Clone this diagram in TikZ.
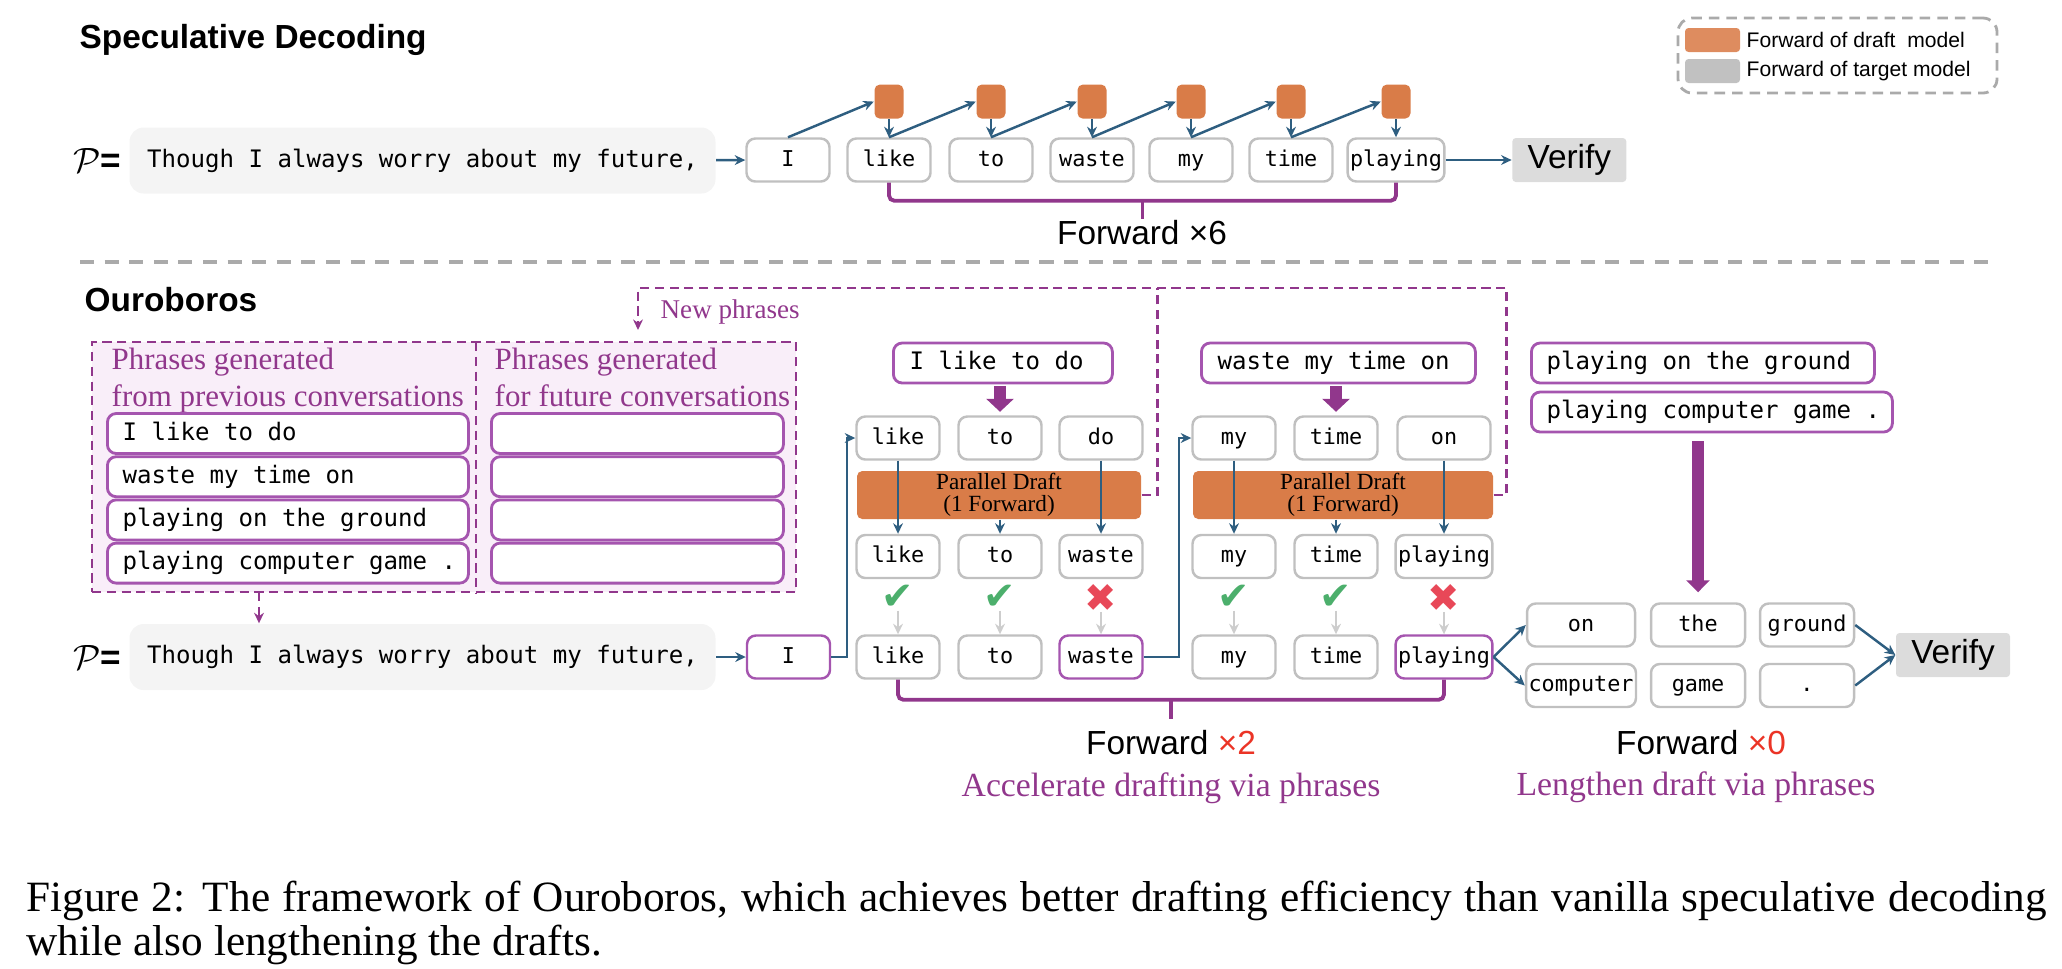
\documentclass[tikz,border=0pt]{standalone}
\usepackage{fontspec}
\setmainfont{Liberation Serif}
\setsansfont{Liberation Sans}
\setmonofont{DejaVu Sans Mono}
\newfontfamily\symfont{DejaVu Sans}
\usetikzlibrary{arrows.meta,calc,positioning}

\definecolor{draftorange}{RGB}{217,124,72}
\definecolor{legorange}{RGB}{222,140,95}
\definecolor{targetgray}{RGB}{193,193,193}
\definecolor{verifygray}{RGB}{220,220,220}
\definecolor{promptgray}{RGB}{244,244,244}
\definecolor{tokgray}{RGB}{192,192,192}
\definecolor{linkblue}{RGB}{46,94,128}
\definecolor{purp}{RGB}{145,55,140}
\definecolor{phrpurple}{RGB}{165,85,175}
\definecolor{poolpink}{RGB}{249,238,249}
\definecolor{okgreen}{RGB}{76,175,108}
\definecolor{badred}{RGB}{232,72,88}
\definecolor{timesred}{RGB}{235,52,38}
\definecolor{sepgray}{RGB}{170,170,170}
\definecolor{lightarrow}{RGB}{205,205,205}

\tikzset{
  tok/.style={draw=tokgray, line width=0.7pt, rounded corners=2.5pt, fill=white,
    minimum width=8.3mm, minimum height=4.3mm, inner xsep=0.25mm, inner ysep=0pt,
    text height=1.7mm, text depth=0.5mm, font=\ttfamily\fontsize{6.2}{7}\selectfont},
  phr/.style={draw=phrpurple, line width=0.8pt, rounded corners=2.5pt, fill=white,
    minimum height=4mm, inner sep=0pt, anchor=west},
  phrtext/.style={anchor=west, inner sep=0pt, text height=1.85mm, text depth=0.55mm,
    font=\ttfamily\fontsize{6.85}{8}\selectfont},
  prompt/.style={fill=promptgray, rounded corners=4pt, minimum width=58.6mm,
    minimum height=6.6mm, inner sep=0pt, font=\ttfamily\fontsize{6.85}{8}\selectfont},
  peq/.style={font=\fontsize{10}{12}\selectfont, inner sep=0pt},
  verify/.style={fill=verifygray, rounded corners=1pt, minimum width=11.4mm,
    minimum height=4.4mm, inner sep=0pt, font=\sffamily\fontsize{9.5}{11}\selectfont},
  draftbox/.style={fill=draftorange, rounded corners=1.5pt, minimum width=2.9mm,
    minimum height=3.4mm, inner sep=0pt},
  pdraft/.style={fill=draftorange, rounded corners=1.5pt, minimum height=4.8mm,
    inner sep=0pt, align=center, font=\fontsize{6.6}{6.3}\selectfont},
  link/.style={draw=linkblue, line width=0.7pt, -{Stealth[length=3pt,width=2.8pt]}},
  passarrow/.style={draw=lightarrow, line width=0.8pt, -{Stealth[length=3pt,width=2.8pt]}},
  bracket/.style={draw=purp, line width=1.1pt, rounded corners=1.5pt},
  fatarrow/.style={draw=purp, line width=1.2mm, -{Triangle[length=1.3mm,width=2.7mm]}},
  newph/.style={draw=purp, line width=0.7pt, dash pattern=on 2.6pt off 1.6pt},
  hdr/.style={text=purp, font=\fontsize{8.8}{10.5}\selectfont, align=left, inner sep=0pt},
  fwd/.style={font=\sffamily\fontsize{9.5}{11}\selectfont, inner sep=0pt},
  note/.style={text=purp, font=\fontsize{9.6}{11}\selectfont, inner sep=0pt},
  sectitle/.style={font=\sffamily\bfseries\fontsize{9.5}{11}\selectfont, anchor=west, inner sep=0pt},
  okmark/.style={text=okgreen, font=\symfont\fontsize{11}{13}\selectfont, inner sep=0pt},
  badmark/.style={text=badred, font=\symfont\fontsize{11}{13}\selectfont, inner sep=0pt},
  legtext/.style={font=\sffamily\fontsize{6}{7}\selectfont, inner sep=0pt, anchor=west}
}

\begin{document}
\begin{tikzpicture}[x=0.1mm, y=-0.1mm]
  \useasboundingbox (0,0) rectangle (2062,968);
  \def\ya{438}
  \def\yb{556.5}
  \def\yc{657}

  % speculative decoding
  \node[sectitle] (spectitle) at (79,40) {Speculative Decoding};
  \node[draw=sepgray, line width=0.8pt, dash pattern=on 3pt off 2pt, rounded corners=4pt,
    minimum width=31.9mm, minimum height=7.5mm] (legend) at (1837.5,55.5) {};
  \node[fill=legorange, rounded corners=1pt, minimum width=5.5mm, minimum height=2.4mm,
    inner sep=0pt] (legdraft) at (1712.5,40) {};
  \node[fill=targetgray, rounded corners=1pt, minimum width=5.5mm, minimum height=2.4mm,
    inner sep=0pt] (legtarget) at (1712.5,71) {};
  \node[legtext] at (1746,40) {Forward of draft~~model};
  \node[legtext] at (1746,71) {Forward of target model};

  \node[prompt] (ptop) at (422.5,160.5) {Though I always worry about my future,};
  \node[peq, left=0.7mm of ptop] {$\mathcal{P}${\sffamily\bfseries =}};
  \foreach \w/\x [count=\i] in {I/788, like/889, to/991, waste/1092, my/1191, time/1291, playing/1396}
    \node[tok] (t\i) at (\x,160) {\w};
  \foreach \i in {2,...,7}
    \node[draftbox, above=1.8mm of t\i] (d\i) {};
  \foreach \i [evaluate=\i as \j using int(\i+1)] in {1,...,6}
    \draw[link] (t\i.north) -- (d\j.west);
  \foreach \i in {2,...,7}
    \draw[link] (d\i.south) -- (t\i.north);
  \draw[link] (ptop) -- (t1);
  \node[verify, right=6.6mm of t7] (vtop) {Verify};
  \draw[link] (t7) -- (vtop);
  \draw[bracket] (t2.south) -- ++(0,18) -| (t7.south);
  \draw[bracket] ($(t2.south)!.5!(t7.south)+(0,18)$) -- ++(0,18);
  \node[fwd] (fwdsix) at (1142,233) {Forward ×6};

  \draw[sepgray, line width=1pt, dash pattern=on 4pt off 3pt] (80,262) -- (1996,262);

  % ouroboros
  \node[sectitle] (ourotitle) at (84,300) {Ouroboros};
  \node[draw=purp, line width=0.7pt, dash pattern=on 2.6pt off 1.6pt, fill=poolpink,
    minimum width=70.4mm, minimum height=25mm, inner sep=0pt] (pool) at (444,467) {};
  \coordinate (pooldiv) at (476,342);
  \draw[newph] (pooldiv) -- (pooldiv |- pool.south);
  \node[hdr, anchor=north west] (hprev) at (111,347) {Phrases generated\\from previous conversations};
  \node[hdr, anchor=north west] (hnext) at (494,347) {Phrases generated\\for future conversations};
  \foreach \p [count=\i] in {I like to do, waste my time on, playing on the ground, playing computer game .}{
    \node[phr, minimum width=36.1mm] (old\i) at (106,{390.3+43.2*\i}) {};
    \node[phrtext] at ([xshift=1.6mm]old\i.west) {\p};
    \node[phr, minimum width=29.2mm] (new\i) at (490,{390.3+43.2*\i}) {};
  }

  \node[prompt] (pbot) at (422.5,\yc) {Though I always worry about my future,};
  \node[peq, left=0.7mm of pbot] {$\mathcal{P}${\sffamily\bfseries =}};
  \coordinate (poolout) at (259,592);
  \draw[newph, -{Stealth[length=3pt,width=2.8pt]}] (poolout) -- (poolout |- pbot.north);
  \node[tok, draw=phrpurple] (cur) at (788.5,\yc) {I};
  \draw[link] (pbot) -- (cur);

  \node[phr, minimum width=21.9mm] (ph1) at (892,363) {};
  \node[phrtext] at ([xshift=1.7mm]ph1.west) {I like to do};
  \node[phr, minimum width=27.4mm] (ph2) at (1200,363) {};
  \node[phrtext] at ([xshift=1.7mm]ph2.west) {waste my time on};
  \foreach \w/\x/\mw [count=\i] in {like/898/8.3mm, to/1000/8.3mm, do/1101/8.3mm, my/1234/8.3mm, time/1336/8.3mm, on/1444/9.3mm}
    \node[tok, minimum width=\mw] (a\i) at (\x,\ya) {\w};
  \foreach \w/\x [count=\i] in {like/898, to/1000, waste/1101, my/1234, time/1336, playing/1444}
    \node[tok] (b\i) at (\x,\yb) {\w};
  \foreach \w/\x/\bc [count=\i] in {like/898/tokgray, to/1000/tokgray, waste/1101/phrpurple, my/1234/tokgray, time/1336/tokgray, playing/1444/phrpurple}
    \node[tok, draw=\bc] (c\i) at (\x,\yc) {\w};
  \draw[fatarrow, shorten <=0.2mm, shorten >=0.35mm] (ph1.south -| a2.north) -- (a2.north);
  \draw[fatarrow, shorten <=0.2mm, shorten >=0.35mm] (ph2.south -| a5.north) -- (a5.north);
  \node[pdraft, minimum width=28.4mm] (pd1) at (999,495) {Parallel Draft\\(1 Forward)};
  \node[pdraft, minimum width=30mm] (pd2) at (1343,495) {Parallel Draft\\(1 Forward)};
  \foreach \i in {1,3,4,6}
    \draw[link] (a\i.south) -- (b\i.north);
  \foreach \i/\p in {2/pd1, 5/pd2}
    \draw[link] (\p.south -| b\i.north) -- (b\i.north);
  \foreach \i in {1,2,4,5}
    \node[okmark] (m\i) at ($(b\i.south)+(0,18.5)$) {✔};
  \foreach \i in {3,6}
    \node[badmark] (m\i) at ($(b\i.south)+(0,18.5)$) {✖};
  \foreach \i in {1,...,6}
    \draw[passarrow] (m\i.south) -- (c\i.north);
  \draw[link] (cur.east) -- ++(15.5,0) |- (a1.west);
  \draw[link] (c3.east) -- ++(35,0) |- (a4.west);

  % new phrases go back to the pool
  \coordinate (npdrop) at (638,288);
  \path (pd1.east) ++(16,0) coordinate (pd1out);
  \draw[newph] (pd1.east) -- (pd1out) -- (pd1out |- npdrop);
  \draw[newph, -{Stealth[length=3pt,width=2.8pt]}] (pd2.east) -- ++(13,0) |- (npdrop) -- ++(0,42);
  \node[note, anchor=west, font=\fontsize{7.7}{9}\selectfont] (nplabel) at (660,312) {New phrases};

  \draw[bracket] (c1.south) -- ++(0,20) -| (c6.south);
  \draw[bracket] ($(c1.south)!.5!(c6.south)+(0,20)$) -- ++(0,19);
  \node[fwd] (fwdtwo) at (1171,743) {Forward \textcolor{timesred}{×2}};
  \node[note] (accel) at (1171,788) {Accelerate drafting via phrases};

  % lengthen the draft
  \node[phr, minimum width=34.3mm] (ph3) at (1530,363) {};
  \node[phrtext] at ([xshift=1.6mm]ph3.west) {playing on the ground};
  \node[phr, minimum width=36.1mm] (ph4) at (1530,412) {};
  \node[phrtext] at ([xshift=1.6mm]ph4.west) {playing computer game .};
  \foreach \w/\x/\mw [count=\i] in {on/1581/10.8mm, the/1698/9.4mm, ground/1807/9.4mm}
    \node[tok, minimum width=\mw] (e\i) at (\x,625) {\w};
  \foreach \w/\x/\mw [count=\i] in {computer/1581/10.8mm, game/1698/9.4mm, ./1807/9.4mm}
    \node[tok, minimum width=\mw] (f\i) at (\x,685.5) {\w};
  \draw[fatarrow, line width=1.2mm, -{Triangle[length=1.2mm,width=2.3mm]},
    shorten <=0.8mm, shorten >=1mm] (e2.north |- ph4.south) -- (e2.north);
  \node[verify] (vbot) at (1953,655) {Verify};
  \draw[link] (c6.east) -- (e1.west);
  \draw[link] (c6.east) -- (f1.west);
  \draw[link] (e3.east) -- (vbot.west);
  \draw[link] (f3.east) -- (vbot.west);
  \node[fwd] (fwdzero) at (1701,743) {Forward \textcolor{timesred}{×0}};
  \node[note] (lengthen) at (1696,787) {Lengthen draft via phrases};

  \node[anchor=north west, text width=20.2cm, align=justify, inner sep=0pt,
    font=\fontsize{12.3}{12.6}\selectfont] (caption) at (26,880)
    {Figure 2: The framework of Ouroboros, which achieves better drafting efficiency than vanilla speculative decoding\linebreak while also lengthening the drafts.};
\end{tikzpicture}
\end{document}
